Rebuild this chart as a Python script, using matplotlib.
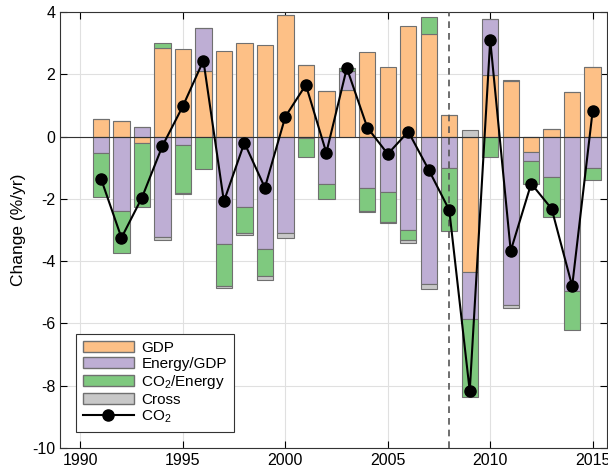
import numpy as np
import matplotlib
matplotlib.use("Agg")
import matplotlib.pyplot as plt
from matplotlib.lines import Line2D
from matplotlib.patches import Patch

plt.rcParams['font.family'] = ['Liberation Sans', 'DejaVu Sans']
plt.rcParams['mathtext.fontset'] = 'custom'
plt.rcParams['mathtext.rm'] = 'Liberation Sans'
plt.rcParams['mathtext.it'] = 'Liberation Sans'
plt.rcParams['axes.unicode_minus'] = False

years = list(range(1991, 2016))
gdp = [0.58, 0.49, -0.20, 2.85, 2.82, 2.11, 2.75, 3.00, 2.93, 3.89, 2.30, 1.47, 1.48, 2.71, 2.22,
       3.56, 3.29, 0.69, -4.36, 1.98, 1.77, -0.49, 0.23, 1.42, 2.25]
energy_gdp = [-0.52, -2.39, 0.31, -3.24, -0.28, 1.37, -3.45, -2.27, -3.60, -3.11, -0.03, -1.52, 0.63, -1.66, -1.79,
              -3.00, -4.74, -1.02, -1.51, 1.79, -5.41, -0.30, -1.29, -4.96, -1.02]
co2_energy = [-1.41, -1.35, -2.07, 0.15, -1.52, -1.03, -1.34, -0.82, -0.87, 0.0, -0.62, -0.48, 0.09, -0.72, -0.96,
              -0.32, 0.55, -2.02, -2.49, -0.67, 0.05, -0.72, -1.28, -1.26, -0.39]
cross = [0.0, 0.0, 0.0, -0.07, -0.05, 0.0, -0.06, -0.07, -0.12, -0.16, 0.0, 0.0, 0.0, -0.05, -0.03,
         -0.10, -0.16, 0.0, 0.20, 0.0, -0.08, 0.0, 0.0, 0.0, 0.0]
co2 = [-1.35, -3.25, -1.96, -0.30, 0.98, 2.44, -2.08, -0.20, -1.64, 0.64, 1.66, -0.52, 2.20, 0.29, -0.56,
       0.16, -1.07, -2.36, -8.17, 3.10, -3.67, -1.51, -2.32, -4.80, 0.83]

labels = ['GDP', 'Energy/GDP', r'CO$_2$/Energy', 'Cross']
colors = ['#fdc086', '#beaed4', '#7fc97f', '#c8c8c8']
series = [gdp, energy_gdp, co2_energy, cross]

fig = plt.figure(figsize=(6.08, 4.72), dpi=100)
ax = fig.add_axes([60/608, (472-448)/472, (607-60)/608, (448-12)/472])

x = np.array(years, dtype=float)
pos_bottom = np.zeros(len(years))
neg_bottom = np.zeros(len(years))
for vals, c in zip(series, colors):
    v = np.array(vals)
    b = np.where(v >= 0, pos_bottom, neg_bottom)
    ax.bar(x, v, width=0.8, bottom=b, color=c, edgecolor='#707070', linewidth=0.8, zorder=3)
    pos_bottom += np.where(v >= 0, v, 0)
    neg_bottom += np.where(v < 0, v, 0)

ax.axhline(0, color='#333333', linewidth=0.8, zorder=4)
ax.axvline(2008, color='#555555', linestyle=(0, (4, 3)), linewidth=1.2, zorder=4)
ax.plot(x, co2, color='black', linewidth=1.5, marker='o', markersize=8, zorder=5)

ax.set_xlim(1989.0, 2015.7)
ax.set_ylim(-10, 4)
ax.set_xticks([1990, 1995, 2000, 2005, 2010, 2015])
ax.set_yticks([-10, -8, -6, -4, -2, 0, 2, 4])
ax.tick_params(direction='in', top=True, right=True, labelsize=11.5, length=5, width=0.8)
ax.grid(True, color='#e0e0e0', linewidth=0.8, zorder=0)
ax.set_axisbelow(True)
for s in ax.spines.values():
    s.set_color('#333333')
    s.set_linewidth(0.8)
ax.set_ylabel('Change (%/yr)', fontsize=12.5)

handles = [Patch(facecolor=c, edgecolor='#707070', label=l) for c, l in zip(colors, labels)]
handles.append(Line2D([], [], color='black', linewidth=1.5, marker='o', markersize=8, label=r'CO$_2$'))
leg = ax.legend(handles=handles, loc='lower left', bbox_to_anchor=(0.03, 0.037), fontsize=11,
                frameon=True, fancybox=False, edgecolor='#333333', framealpha=1, borderaxespad=0,
                handlelength=3.3, handleheight=0.8, labelspacing=0.12, borderpad=0.45, handletextpad=0.5)
leg.get_frame().set_linewidth(0.8)

fig.savefig('out.png', dpi=100)
